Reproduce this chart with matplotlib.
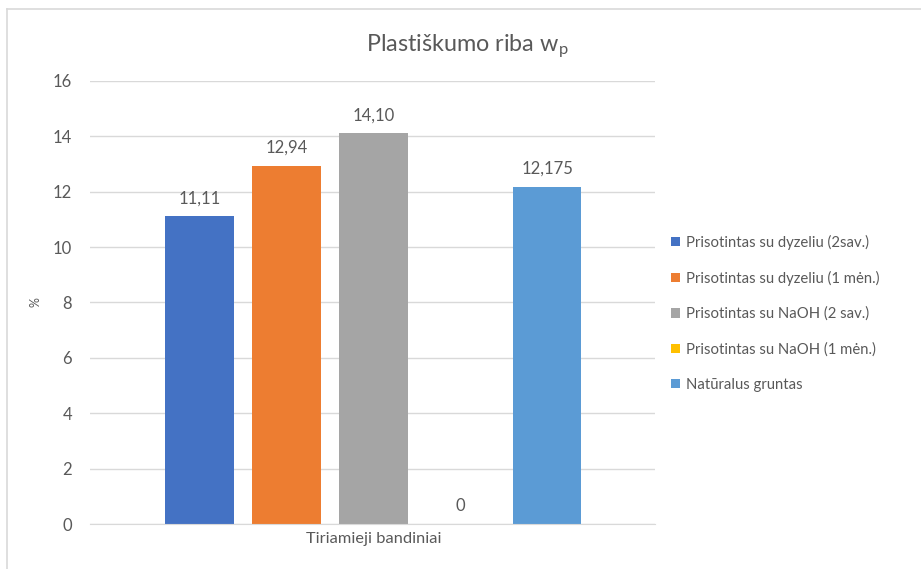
import matplotlib.pyplot as plt
from matplotlib.lines import Line2D

# plastic limit values for each sample series
series = ['Prisotintas su dyzeliu (2sav.)', 'Prisotintas su dyzeliu (1 mėn.)',
          'Prisotintas su NaOH (2 sav.)', 'Prisotintas su NaOH (1 mėn.)',
          'Natūralus gruntas']
values = [11.11, 12.94, 14.10, 0, 12.175]
labels = ['11,11', '12,94', '14,10', '0', '12,175']
colors = ['#4472c4', '#ed7d31', '#a5a5a5', '#ffc000', '#5b9bd5']

plt.rcParams['font.family'] = ['Lato', 'DejaVu Sans']
plt.rcParams['mathtext.fontset'] = 'custom'
plt.rcParams['mathtext.rm'] = 'Lato'

txt = '#595959'
fig = plt.figure(figsize=(9.21, 5.69), dpi=100)
ax = fig.add_axes([0.0977, 0.079, 0.6133, 0.779])

for i, (v, lab, c, name) in enumerate(zip(values, labels, colors, series)):
    ax.bar(i, v, width=0.79, color=c, label=name, zorder=2)
    ax.text(i, v + 0.35, lab, ha='center', va='bottom', fontsize=12, color=txt)

ax.set_xlim(-1.26, 5.24)
ax.set_ylim(0, 16)
ax.set_yticks(range(0, 17, 2))
ax.set_xticks([2])
ax.set_xticklabels(['Tiriamieji bandiniai'])
ax.tick_params(length=0, labelsize=12, labelcolor=txt)
ax.tick_params(axis='x', labelsize=11.8, pad=6)
ax.tick_params(axis='y', pad=13)
ax.grid(axis='y', color='#d9d9d9', linewidth=1, zorder=0)
for s in ['top', 'right', 'left']:
    ax.spines[s].set_visible(False)
ax.spines['bottom'].set_color('#d9d9d9')
ax.set_ylabel('%', color=txt, fontsize=9, labelpad=8)

fig.text(0.507, 0.918, r'Plastiškumo riba w$_\mathrm{p}$', ha='center', va='center',
         fontsize=16.8, color=txt)

ax.legend(loc='center left', bbox_to_anchor=(1.005, 0.476), frameon=False,
          fontsize=10.7, labelcolor=txt, handlelength=0.6, handleheight=0.6,
          handletextpad=0.4, labelspacing=1.42)

# thin outline along the top and left of the chart area
fig.add_artist(Line2D([7 / 921, 7 / 921], [0, 1 - 9 / 569], color='#d9d9d9', lw=1.2))
fig.add_artist(Line2D([7 / 921, 1], [1 - 9 / 569, 1 - 9 / 569], color='#d9d9d9', lw=1.2))

fig.savefig('out.png', dpi=100)
